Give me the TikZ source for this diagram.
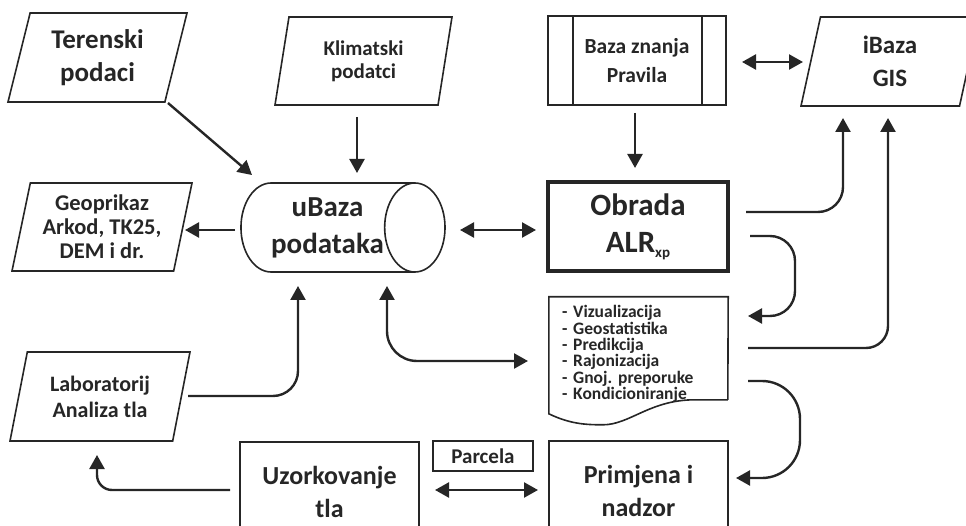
\documentclass[tikz,border=0pt]{standalone}
\usepackage{fontspec}
\setmainfont{Carlito}
\frenchspacing
\usetikzlibrary{shapes.geometric,arrows.meta}
\definecolor{ink}{HTML}{262626}
\newcommand\velicina[2]{\fontsize{#1}{#2}\selectfont\bfseries}
\tikzset{
  vrh/.tip={Triangle[length=14pt,width=15pt]},
  ulaz/.style={trapezium, trapezium stretches body, draw, color=ink, line width=1.6pt, align=center, inner sep=0pt},
  blok/.style={rectangle, draw, color=ink, line width=1.6pt, align=center, inner sep=0pt},
  veza/.style={ink, line width=2.4pt, -vrh},
  dveza/.style={ink, line width=2.4pt, vrh-vrh},
}
\begin{document}
\begin{tikzpicture}[x=1pt,y=-1pt]
\clip (0,0) rectangle (966,526);
% ulazni podaci
\node[ulaz, trapezium left angle=68.5, trapezium right angle=111.5, minimum width=179pt, minimum height=89pt, font=\velicina{27}{33}] (terenski) at (97.5,57.5) {Terenski\\podaci};
\node[ulaz, trapezium left angle=71.2, trapezium right angle=108.8, minimum width=177pt, minimum height=88pt, font=\velicina{21}{23}] (klimatski) at (363.5,61) {Klimatski\\podatci};
\node[ulaz, trapezium left angle=74, trapezium right angle=106, minimum width=180pt, minimum height=88pt, font=\velicina{22.5}{24}] (geoprikaz) at (102,227) {Geoprikaz\\Arkod, TK25,\\DEM i dr.};
\node[ulaz, trapezium left angle=69, trapezium right angle=111, minimum width=178pt, minimum height=89pt, font=\velicina{25}{33}] (ibaza) at (890,61.5) {iBaza\\GIS};
\node[ulaz, trapezium left angle=67.4, trapezium right angle=112.6, minimum width=180pt, minimum height=89pt, font=\velicina{22}{26}] (laboratorij) at (100,396.5) {Laboratorij\\Analiza tla};
% baza podataka
\node[cylinder, draw, color=ink, line width=1.6pt, aspect=1, minimum width=89pt, minimum height=169pt, align=center, inner sep=0pt, font=\velicina{29}{37}] (ubaza) at (327.5,227.5) {uBaza\\podataka};
% obrada
\node[blok, minimum width=178pt, minimum height=89pt, font=\velicina{21.5}{29}] (baza) at (637,60.5) {Baza znanja\\Pravila};
\draw[ink, line width=1.6pt] ([xshift=26pt]baza.north west) -- ([xshift=26pt]baza.south west)
  ([xshift=-25pt]baza.north east) -- ([xshift=-25pt]baza.south east);
\node[blok, line width=3.2pt, minimum width=180pt, minimum height=89pt, font=\velicina{31}{37}] (obrada) at (638,226.5) {Obrada\\ALR\raisebox{-5pt}{\fontsize{15}{15}\selectfont xp}};
\node[align=left, color=ink, text width=153pt, inner xsep=13pt, inner ysep=0pt, minimum height=114pt, font=\velicina{17.5}{16.4}] (izlaz) at (638.5,354)
  {- Vizualizacija\\- Geostatistika\\- Predikcija\\- Rajonizacija\\- Gnoj. preporuke\\- Kondicioniranje};
\draw[ink, line width=1.6pt] ([shift={(179,103)}]izlaz.north west) -- (izlaz.north east) -- (izlaz.north west)
  -- ([shift={(0,117)}]izlaz.north west) .. controls ([shift={(21,127)}]izlaz.north west) and ([shift={(36,128)}]izlaz.north west) .. ([shift={(54,128)}]izlaz.north west)
  .. controls ([shift={(81,128)}]izlaz.north west) and ([shift={(101,103)}]izlaz.north west) .. ([shift={(146,103)}]izlaz.north west) -- ([shift={(179,103)}]izlaz.north west);
% teren
\node[blok, minimum width=179pt, minimum height=100pt, font=\velicina{26}{33}] (primjena) at (638.5,491) {Primjena i\\nadzor};
\node[blok, minimum width=179pt, minimum height=100pt, font=\velicina{26}{33}] (uzorkovanje) at (329.5,492) {Uzorkovanje\\tla};
\node[blok, minimum width=100pt, minimum height=30pt, font=\velicina{21}{24}] (parcela) at (483,456) {Parcela};
% veze
\draw[veza] ([shift={(70.5,45.5)}]terenski.center) -- ([shift={(-75.5,-52.5)}]ubaza.center);
\draw[veza] ([shift={(-6.5,56)}]klimatski.center) -- ([shift={(29.5,-54.5)}]ubaza.center);
\draw[veza] ([shift={(-92.5,2.5)}]ubaza.center) -- ([shift={(83,3)}]geoprikaz.center);
\draw[dveza] ([shift={(132.5,2.5)}]ubaza.center) -- ([shift={(-102,3.5)}]obrada.center);
\draw[veza] ([shift={(-2,52.5)}]baza.center) -- ([shift={(-3,-58.5)}]obrada.center);
\draw[dveza] ([shift={(105,1.5)}]baza.center) -- ([shift={(-87,0.5)}]ibaza.center);
\draw[veza, rounded corners=25pt] ([shift={(108,-14.5)}]obrada.center) -| ([shift={(-47,56.5)}]ibaza.center);
\draw[veza, rounded corners=25pt] ([shift={(112,9.5)}]obrada.center) -- +(45,0) |- ([shift={(109.5,-38)}]izlaz.center);
\draw[veza, rounded corners=22pt] ([shift={(109.5,-6)}]izlaz.center) -| ([shift={(-2,56.5)}]ibaza.center);
\draw[veza, rounded corners=38pt] ([shift={(109.5,27)}]izlaz.center) -- +(52,0) |- ([shift={(97.5,-13)}]primjena.center);
\draw[veza, rounded corners=15pt] ([shift={(-99.5,-2)}]uzorkovanje.center) -| ([shift={(-3,58.5)}]laboratorij.center);
\draw[dveza] ([shift={(105.5,-2)}]uzorkovanje.center) -- ([shift={(-100.5,-1)}]primjena.center);
\draw[veza, rounded corners=25pt] ([shift={(88,-0.5)}]laboratorij.center) -| ([shift={(-29.5,58.5)}]ubaza.center);
\draw[dveza, rounded corners=30pt] ([shift={(59.5,58.5)}]ubaza.center) |- ([shift={(-110.5,7)}]izlaz.center);
\end{tikzpicture}
\end{document}
